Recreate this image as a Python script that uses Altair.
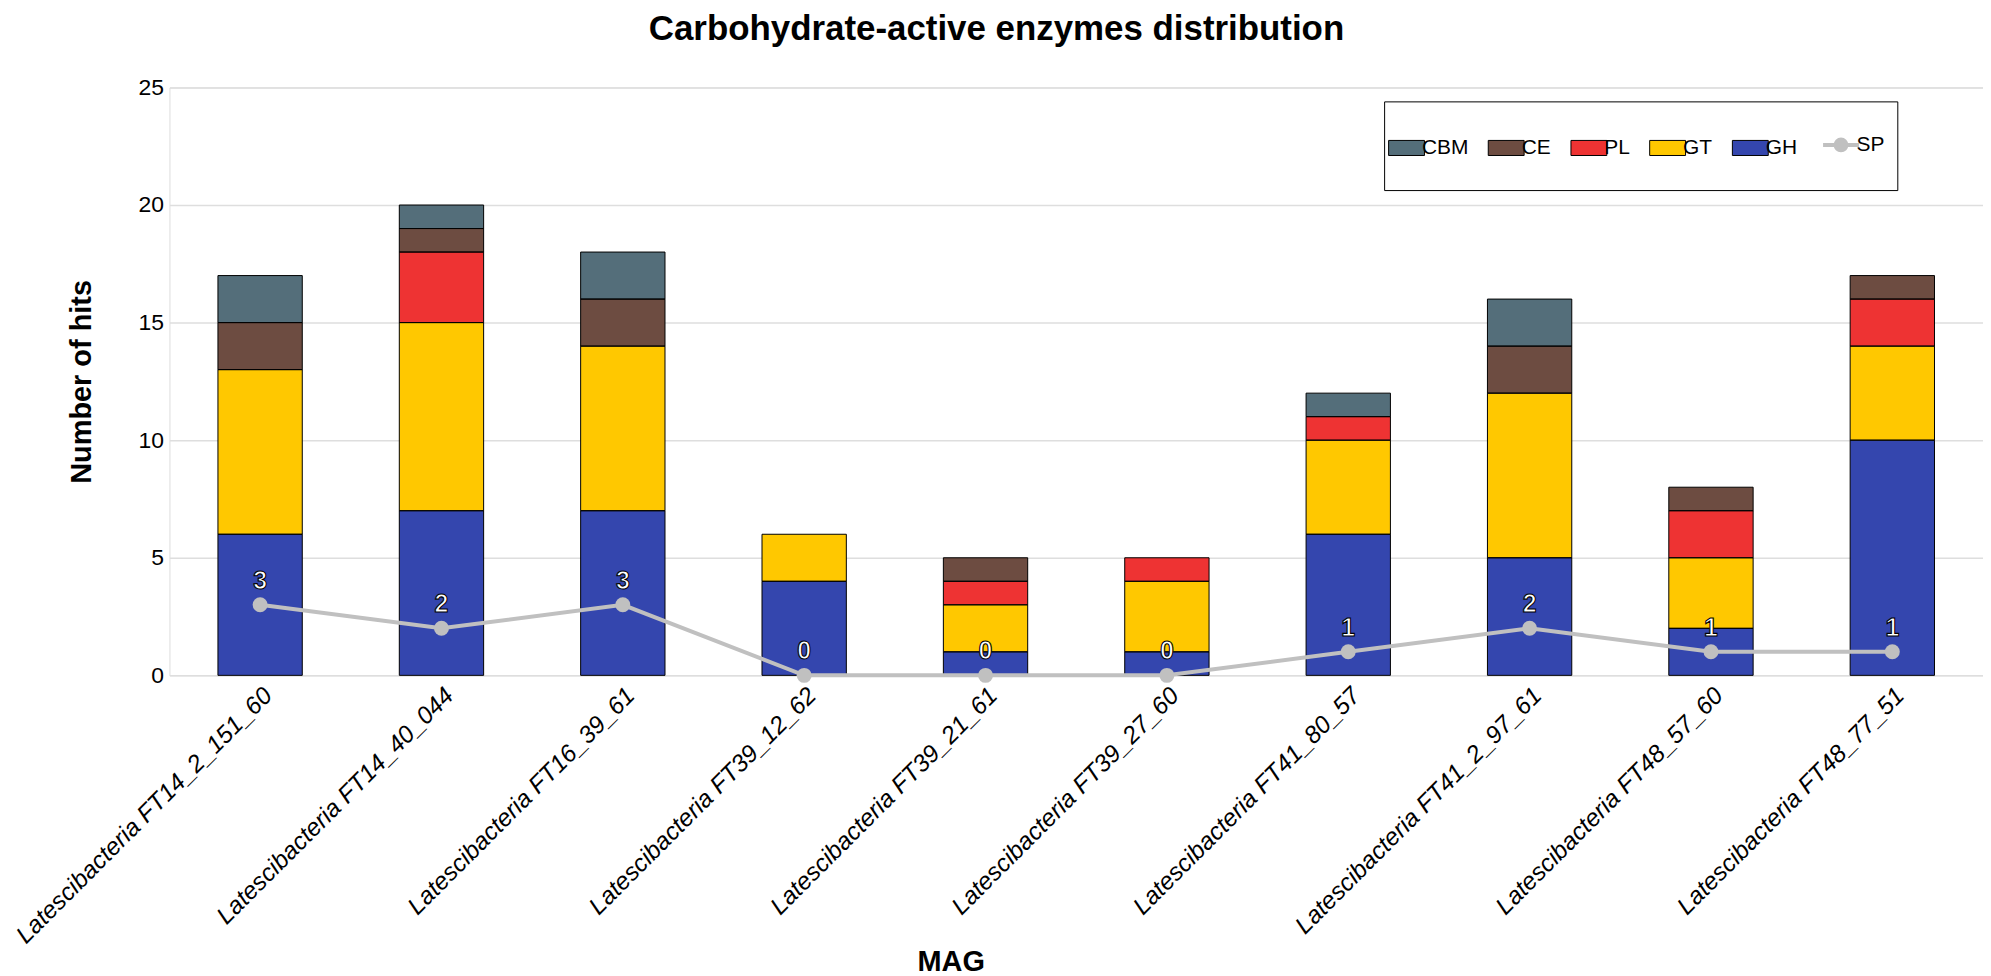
import altair as alt
import pandas as pd

MAGS = [
    "Latescibacteria FT14_2_151_60",
    "Latescibacteria FT14_40_044",
    "Latescibacteria FT16_39_61",
    "Latescibacteria FT39_12_62",
    "Latescibacteria FT39_21_61",
    "Latescibacteria FT39_27_60",
    "Latescibacteria FT41_80_57",
    "Latescibacteria FT41_2_97_61",
    "Latescibacteria FT48_57_60",
    "Latescibacteria FT48_77_51",
]
GH = [6, 7, 7, 4, 1, 1, 6, 5, 2, 10]
GT = [7, 8, 7, 2, 2, 3, 4, 7, 3, 4]
PL = [0, 3, 0, 0, 1, 1, 1, 0, 2, 2]
CE = [2, 1, 2, 0, 1, 0, 0, 2, 1, 1]
CBM = [2, 1, 2, 0, 0, 0, 1, 2, 0, 0]
SP = [3, 2, 3, 0, 0, 0, 1, 2, 1, 1]

LEGEND_ORDER = ["CBM", "CE", "PL", "GT", "GH", "SP"]
COLORS = ["#546E7A", "#6D4C41", "#EE3333", "#FFC800", "#3446AE", "#C0C0C0"]
STACK = [("GH", GH), ("GT", GT), ("PL", PL), ("CE", CE), ("CBM", CBM)]

rows = []
for i, m in enumerate(MAGS):
    for k, (t, vals) in enumerate(STACK):
        if vals[i] > 0:
            rows.append({"MAG": m, "type": t, "hits": vals[i], "ord": k})
bars_df = pd.DataFrame(rows)
sp_df = pd.DataFrame({"MAG": MAGS, "SP": SP})

FONT = "Liberation Sans"

x_axis = alt.Axis(
    labelAngle=315, labelAlign="right", labelBaseline="top", labelPadding=8,
    labelOffset=0,
    labelFont=FONT, labelFontSize=24.5, labelFontStyle="italic", labelColor="black",
    ticks=False, domain=False, grid=False, labelLimit=0,
    title="MAG", titleFont=FONT, titleFontSize=29, titleFontWeight="bold",
    titleColor="black", titleX=784, titleY=296, titleAlign="center",
    titleBaseline="alphabetic",
)
y_axis = alt.Axis(
    values=[0, 5, 10, 15, 20, 25], labelFont=FONT, labelFontSize=23,
    labelColor="black", labelPadding=6, ticks=False, domain=False,
    grid=True, gridColor="#dedede", gridWidth=1.5,
    title="Number of hits", titleFont=FONT, titleFontSize=29,
    titleFontWeight="bold", titleColor="black", titleAngle=270,
    titleX=-79, titleY=295, titleAlign="center", titleBaseline="alphabetic",
)

x_enc = alt.X("MAG:N", sort=MAGS,
              scale=alt.Scale(paddingInner=0.535, paddingOuter=0.2675),
              axis=x_axis)
y_scale = alt.Scale(domain=[0, 25], nice=False)

SP_PATH = ("M-1,0L1,0M0.3,0A0.3,0.3,0,1,1,-0.3,0A0.3,0.3,0,1,1,0.3,0"
           "M0,1.39")
RECT_PATH = "M-1,-0.42L1,-0.42L1,0.42L-1,0.42ZM0,1.39"

legend = alt.Legend(
    title=" ", titleFontSize=10, titlePadding=11,
    orient="none", legendX=1219, legendY=14,
    direction="horizontal", columns=6,
    labelFont=FONT, labelFontSize=21, labelColor="black", labelOffset=5,
    columnPadding=17, padding=12, strokeColor="black", fillColor="white",
    symbolSize=1296,
    symbolType={"expr": f"datum.value === 'SP' ? '{SP_PATH}' : '{RECT_PATH}'"},
    symbolStrokeColor={"expr": "datum.value === 'SP' ? '#C0C0C0' : 'black'"},
    symbolStrokeWidth={"expr": "datum.value === 'SP' ? 4 : 1"},
    symbolOpacity=1,
)

bars = alt.Chart(bars_df).mark_bar().encode(
    x=x_enc,
    y=alt.Y("hits:Q", stack="zero", scale=y_scale, axis=y_axis),
    color=alt.Color("type:N", scale=alt.Scale(domain=LEGEND_ORDER, range=COLORS),
                    legend=legend),
    order=alt.Order("ord:Q", sort="ascending"),
)

outline = alt.Chart(bars_df).mark_bar(filled=False, stroke="black", strokeWidth=1).encode(
    x=x_enc,
    y=alt.Y("hits:Q", stack="zero", scale=y_scale, axis=y_axis),
    detail="type:N",
    order=alt.Order("ord:Q", sort="ascending"),
)

line = alt.Chart(sp_df).mark_line(
    color="#C0C0C0", strokeWidth=4,
    point=alt.OverlayMarkDef(filled=True, size=225, color="#C0C0C0", opacity=1),
).encode(
    x=x_enc,
    y=alt.Y("SP:Q", scale=y_scale, axis=y_axis),
)

labels = alt.Chart(sp_df).mark_text(
    font=FONT, fontWeight="bold", fontSize=25, fill="white", stroke="black",
    strokeWidth=1.1, dy=-24, baseline="middle", align="center",
).encode(
    x=x_enc,
    y=alt.Y("SP:Q", scale=y_scale, axis=y_axis),
    text=alt.Text("SP:Q"),
)

chart = alt.layer(bars, outline, line, labels).properties(
    width=1820, height=590,
    autosize=alt.AutoSizeParams(type="none"),
    padding={"left": 162, "top": 78, "right": 0, "bottom": 300},
    title=alt.TitleParams(
        text="Carbohydrate-active enzymes distribution", font=FONT,
        fontSize=35, fontWeight="bold", color="black", anchor="middle",
        frame="group", offset=2, baseline="alphabetic", dx=-80,
    ),
).configure_view(stroke=None).configure(background="white")

chart.save("out.html", embed_options={"renderer": "svg", "actions": False})
